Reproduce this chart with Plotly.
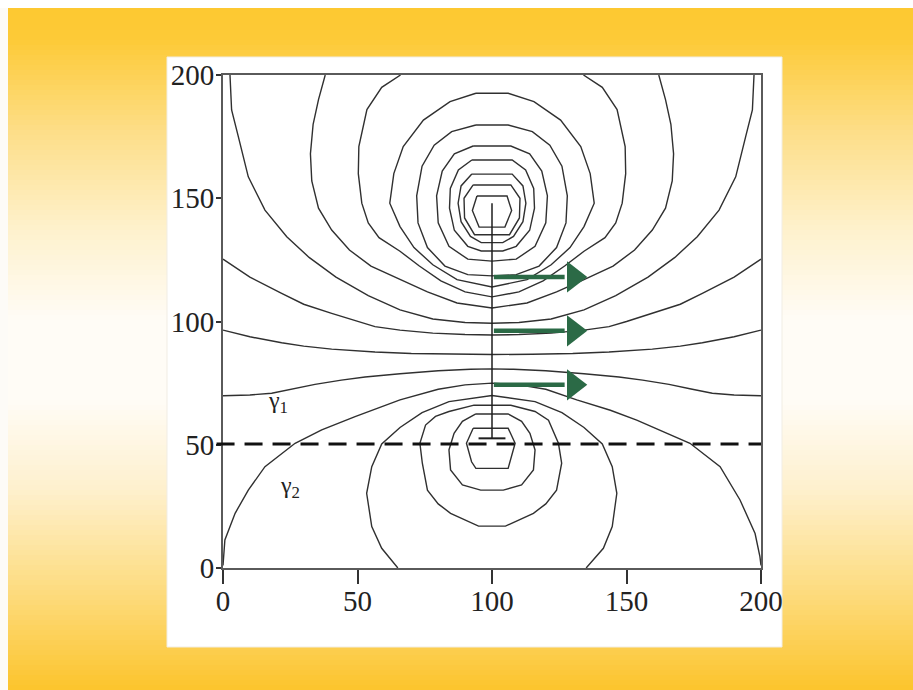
import plotly.graph_objects as go

# ---------------- data ----------------
x_ticks = [0, 50, 100, 150, 200]
y_ticks = [0, 50, 100, 150, 200]

# closed rings around the upper source
ring_h_x = [94.4, 105.6, 107.3, 104.8, 95.2, 92.7, 94.4]
ring_h_y = [150.9, 150.9, 145, 138.3, 138.3, 145, 150.9]
ring_g_x = [93, 107, 110.4, 110.2, 106.5, 93.5, 89.8, 89.6, 93]
ring_g_y = [155.4, 155.4, 150, 142, 135.2, 135.2, 142, 150, 155.4]
ring_f_x = [92.5, 107.5, 111.5, 112.6, 111.5, 108, 104, 96, 92, 88.5, 87.4, 88.5, 92.5]
ring_f_y = [159.8, 159.8, 155, 148, 140.5, 134.5, 132, 132, 134.5, 140.5, 148, 155, 159.8]
ring_e_x = [92.5, 107.5, 112.5, 115.5, 115.8, 114, 109, 104, 96, 91, 86, 84.2, 84.5, 87.5, 92.5]
ring_e_y = [165.5, 165.5, 161.5, 154, 146, 137, 130.5, 128.6, 128.6, 130.5, 137, 146, 154, 161.5, 165.5]
ring_d_x = [93, 107, 114, 118.5, 120.6, 120, 116, 109, 100, 91, 84, 80, 79.4, 81.5, 86, 93]
ring_d_y = [171.2, 171.2, 168, 161, 151, 140, 130.5, 125.3, 124.5, 125.3, 130.5, 140, 151, 161, 168, 171.2]
ring_c_x = [94, 106, 115, 121.5, 126, 128, 127.5, 124, 117.5, 109, 100, 91, 82.5, 76, 72.5, 72, 74, 78.5, 85, 94]
ring_c_y = [179.7, 179.7, 177, 171.5, 163, 151, 140, 130, 122.5, 119, 118.5, 119, 122.5, 130, 140, 151, 163, 171.5, 177, 179.7]
ring_b_x = [94, 106, 115.6, 125.5, 133, 136.5, 138, 134.2, 129, 122, 113, 100, 87, 78, 71, 65.8, 62, 63.5, 67, 74.5, 84.4, 94]
ring_b_y = [192.6, 192.6, 189.2, 181.7, 171, 160, 148, 138.5, 130, 123, 117, 114, 117, 123, 130, 138.5, 148, 160, 171, 181.7, 189.2, 192.6]

# U-shaped lines that start and end on the top edge
u3_x = [66, 59, 53.5, 50.5, 50.3, 51.6, 54, 58, 65.8, 73, 81, 90, 100, 110, 119, 127, 134.2, 142, 146, 148.4, 149.7, 149.5, 146.5, 141, 134]
u3_y = [200, 195, 186, 171, 160, 148, 140, 134, 128.5, 122.5, 116.5, 112, 110, 112, 116.5, 122.5, 128.5, 134, 140, 148, 160, 171, 186, 195, 200]
u2_x = [38, 35.5, 33.5, 32.5, 33, 35.5, 40.4, 47, 55, 65.8, 76, 87, 100, 113, 124, 134.2, 145, 153, 159.6, 164.5, 167, 167.5, 166.5, 164.5, 162]
u2_y = [200, 190, 180, 168, 157, 146, 137.1, 129, 122.5, 117, 112, 107.5, 105.5, 107.5, 112, 117, 122.5, 129, 137.1, 146, 157, 168, 180, 190, 200]
u1_x = [2.6, 3.2, 5.7, 9.4, 15.6, 23.7, 32, 42, 54, 65.8, 78, 90, 100, 110, 122, 134.2, 146, 158, 168, 176.3, 184.4, 190.6, 194.3, 196.8, 197.4]
u1_y = [200, 185.8, 175, 158.7, 145.2, 134.4, 126, 118, 110.5, 104.7, 101, 99.6, 99.3, 99.6, 101, 104.7, 110.5, 118, 126, 134.4, 145.2, 158.7, 175, 185.8, 200]

# lines running from the left edge to the right edge
l1_x = [0, 10, 21.8, 30, 40.4, 50, 56.5, 65.8, 78, 90, 100, 110, 122, 134.2, 143.5, 150, 159.6, 170, 178.2, 190, 200]
l1_y = [125.3, 118, 111.4, 107, 103.3, 100, 97.9, 96.5, 95.3, 94.7, 94.5, 94.7, 95.3, 96.5, 97.9, 100, 103.3, 107, 111.4, 118, 125.3]
l2_x = [0, 10, 21.8, 30, 40.4, 56.5, 70, 85, 100, 115, 130, 143.5, 159.6, 170, 178.2, 190, 200]
l2_y = [96.5, 93.8, 91.4, 90, 88.8, 87.6, 87, 86.7, 86.6, 86.7, 87, 87.6, 88.8, 90, 91.4, 93.8, 96.5]
l3_x = [0, 10, 18.1, 26, 34.2, 44, 52.8, 65.8, 80, 92, 100, 108, 120, 134.2, 147.2, 156, 165.8, 174, 181.9, 190, 200]
l3_y = [69.9, 70.2, 70.9, 72.6, 74.5, 76.2, 77.5, 78.8, 80, 80.6, 80.8, 80.6, 80, 78.8, 77.5, 76.2, 74.5, 72.6, 70.9, 70.2, 69.9]

# arch from the lower-left corner to the lower-right corner
arch_x = [0, 0.7, 4.5, 9.4, 15.6, 26.8, 36.7, 49.1, 65.8, 80, 90, 100, 110, 120, 131.5, 144, 153.8, 163, 173.6, 184.8, 192.2, 197.8, 199.6, 200]
arch_y = [1, 11.4, 22.2, 31.6, 41.1, 50.6, 56, 61.4, 68.2, 72.5, 74.3, 75, 74.3, 72.5, 68.2, 64, 60, 55.5, 50.6, 41.1, 27.6, 14, 4.6, 1]

# rings around the lower source
ring4_x = [65, 59, 55.3, 53.4, 55.3, 59, 65.8, 74, 84, 100, 116, 126, 134.2, 141, 144.7, 146.4, 144.7, 141.4, 135]
ring4_y = [0, 8, 16.8, 30.3, 41.1, 50.3, 57, 63, 67.5, 70, 67.5, 63, 57, 50.3, 41.1, 30.3, 16.8, 8, 0]
ring3_x = [93, 107, 116, 121, 124.7, 125.9, 124, 120, 115.4, 105, 95, 84.6, 80, 76, 74.1, 73.2, 75.3, 79, 84, 93]
ring3_y = [66, 66, 63.5, 60, 50.6, 42.5, 31.6, 26, 22.2, 17, 17, 22.2, 26, 31.6, 42.5, 50.6, 58, 61.5, 63.5, 66]
ring2_x = [94, 106, 111, 114.1, 116, 115.4, 111, 104.2, 95.8, 89, 84.6, 84, 85.9, 89, 94]
ring2_y = [62.5, 62.5, 59.5, 54.6, 47.9, 39.8, 33.7, 31.6, 31.6, 33.7, 39.8, 47.9, 54.6, 59.5, 62.5]
ring1_x = [93, 106, 108.6, 106.7, 106, 94, 92.4, 90.5, 93]
ring1_y = [56.7, 56.7, 50.6, 43.1, 40.4, 40.4, 43.1, 50.6, 56.7]

# vertical line (well) and its bottom cap
well_x = [100, 100]
well_y = [52.6, 148]
cap_x = [95, 105]
cap_y = [52.6, 52.6]

# dashed interface
interface_y = 50.3

# arrows: shaft start, shaft end, head centre, level
arrow_start_x = [100.7, 100.7, 100.7]
arrow_shaft_end_x = [127, 127, 127]
arrow_head_x = [130.4, 130.4, 130.4]
arrow_y = [118.1, 96.2, 74.3]

# labels
label_text = ["γ<sub>1</sub>", "γ<sub>2</sub>"]
label_x = [20.4, 24.9]
label_y = [67.3, 32.9]

# ---------------- figure ----------------
W, H = 913, 690
L, R, T, B = 223, 152, 75, 122
PW, PH = W - L - R, H - T - B
LINE = "#303030"
GREEN = "#2b6a46"

def px_to_paper(px, py):
    return (px - L) / PW, (H - B - py) / PH

fig = go.Figure()

contours = [
    (ring_h_x, ring_h_y), (ring_g_x, ring_g_y), (ring_f_x, ring_f_y), (ring_e_x, ring_e_y),
    (ring_d_x, ring_d_y), (ring_c_x, ring_c_y), (ring_b_x, ring_b_y),
    (u3_x, u3_y), (u2_x, u2_y), (u1_x, u1_y),
    (l1_x, l1_y), (l2_x, l2_y), (l3_x, l3_y), (arch_x, arch_y),
    (ring4_x, ring4_y), (ring3_x, ring3_y), (ring2_x, ring2_y), (ring1_x, ring1_y),
]
for cx, cy in contours:
    fig.add_trace(go.Scatter(x=cx, y=cy, mode="lines",
                             line=dict(color=LINE, width=1.4),
                             hoverinfo="skip", showlegend=False))

fig.add_trace(go.Scatter(x=well_x, y=well_y, mode="lines",
                         line=dict(color="#1e1e1e", width=1.5), showlegend=False))
fig.add_trace(go.Scatter(x=cap_x, y=cap_y, mode="lines",
                         line=dict(color="#1e1e1e", width=2), showlegend=False))

# green arrows
for sx, ex, hx, ay in zip(arrow_start_x, arrow_shaft_end_x, arrow_head_x, arrow_y):
    fig.add_trace(go.Scatter(x=[sx, ex], y=[ay, ay], mode="lines",
                             line=dict(color=GREEN, width=4.5), showlegend=False))
    fig.add_trace(go.Scatter(x=[hx], y=[ay], mode="markers",
                             marker=dict(symbol="triangle-right", size=27, color=GREEN,
                                         line=dict(width=0)),
                             showlegend=False, cliponaxis=False))

shapes = []
# background gradient (style only)
stops = [(0, (253, 200, 48)), (40, (253, 202, 55)), (130, (253, 222, 135)),
         (230, (254, 241, 205)), (320, (255, 252, 246)), (400, (255, 252, 246)),
         (490, (254, 240, 205)), (590, (253, 220, 128)), (690, (252, 196, 44))]

def col_at(py):
    for (p0, c0), (p1, c1) in zip(stops[:-1], stops[1:]):
        if p0 <= py <= p1:
            t = (py - p0) / (p1 - p0)
            return "rgb(%d,%d,%d)" % tuple(round(a + (b - a) * t) for a, b in zip(c0, c1))
    return "rgb(%d,%d,%d)" % stops[-1][1]

step = 5
for py in range(0, H, step):
    x0, y0 = px_to_paper(0, py + step)
    x1, y1 = px_to_paper(W, py)
    shapes.append(dict(type="rect", xref="paper", yref="paper", x0=x0, x1=x1, y0=y0, y1=y1,
                       fillcolor=col_at(py + step / 2), line=dict(width=0), layer="below"))
# thin white margins at the left and top edges
x0, y0 = px_to_paper(0, H)
x1, y1 = px_to_paper(8, 0)
shapes.append(dict(type="rect", xref="paper", yref="paper", x0=x0, x1=x1, y0=y0, y1=y1,
                   fillcolor="#fdfbf7", line=dict(width=0), layer="below"))
x0, y0 = px_to_paper(0, 8)
x1, y1 = px_to_paper(W, 0)
shapes.append(dict(type="rect", xref="paper", yref="paper", x0=x0, x1=x1, y0=y0, y1=y1,
                   fillcolor="#ffffff", line=dict(width=0), layer="below"))
# white panel
x0, y0 = px_to_paper(167, 647)
x1, y1 = px_to_paper(782, 57)
shapes.append(dict(type="rect", xref="paper", yref="paper", x0=x0, x1=x1, y0=y0, y1=y1,
                   fillcolor="white", line=dict(color="#f1ede4", width=1), layer="below"))
# dashed interface line (starts just left of the axis)
ip = interface_y / 200
shapes.append(dict(type="line", xref="paper", yref="paper", x0=-0.012, x1=1, y0=ip, y1=ip,
                   line=dict(color="#111111", width=3, dash="18px,10px"), layer="above"))

annotations = []
for t, lx, ly in zip(label_text, label_x, label_y):
    annotations.append(dict(x=lx, y=ly, xref="x", yref="y", text=t, showarrow=False,
                            font=dict(family="Liberation Serif", size=24, color="#222")))

axis_common = dict(range=[0, 200], showgrid=False, zeroline=False, showline=True, mirror=True,
                   linecolor="#5a5a5a", linewidth=2, ticks="outside", tickcolor="#333",
                   tickfont=dict(family="Liberation Serif", size=29, color="#222"))
fig.update_layout(
    width=W, height=H, autosize=False,
    margin=dict(l=L, r=R, t=T, b=B),
    paper_bgcolor="white", plot_bgcolor="white",
    shapes=shapes, annotations=annotations, showlegend=False,
    xaxis=dict(tickvals=x_ticks, ticklen=14, tickwidth=1.5, ticklabelstandoff=-8, **axis_common),
    yaxis=dict(tickvals=y_ticks, ticklen=5, tickwidth=1.5, ticklabelstandoff=-4, **axis_common),
)
fig.write_html("out.html", config={"displayModeBar": False},
               post_script="document.body.style.margin='0px';document.body.style.overflow='hidden';")
